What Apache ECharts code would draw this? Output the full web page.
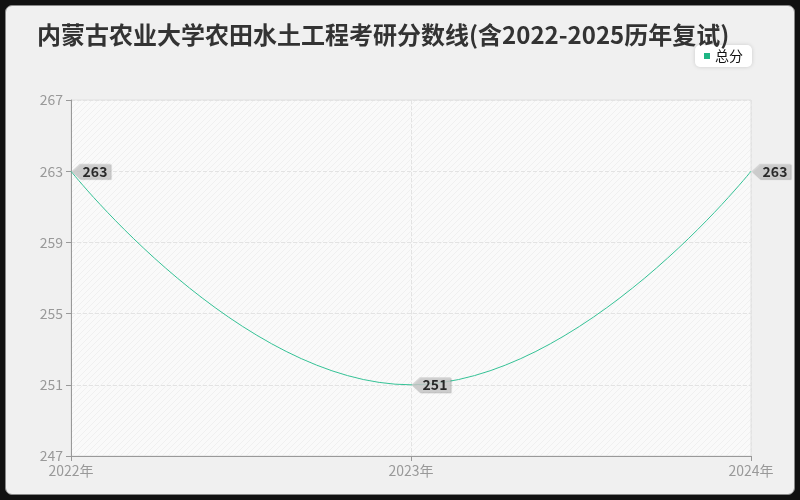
<!DOCTYPE html>
<html><head><meta charset="utf-8">
<script src="https://cdn.jsdelivr.net/npm/echarts@6/dist/echarts.min.js"></script>
<style>
html,body{margin:0;padding:0;background:#111;}
#wrap{position:absolute;left:5px;top:5px;width:788px;height:488px;background:#f0f0f0;border:1px solid #888;border-radius:7px;overflow:hidden;}
#c{width:788px;height:488px;}
</style></head>
<body><div id="wrap"><div id="c"></div></div>
<script>
const years = ['2022年','2023年','2024年'];
const totalScores = [263, 251, 263];
const yTicks = {min:247, max:267, interval:4};

const pc = document.createElement('canvas');
pc.width = 6; pc.height = 6;
const g = pc.getContext('2d');
g.fillStyle = '#fafafa'; g.fillRect(0,0,6,6);
g.strokeStyle = '#f0f0f0'; g.lineWidth = 1;
g.beginPath(); g.moveTo(0,6); g.lineTo(6,0); g.stroke();
g.beginPath(); g.moveTo(-3,3); g.lineTo(3,-3); g.stroke();
g.beginPath(); g.moveTo(3,9); g.lineTo(9,3); g.stroke();

const chart = echarts.init(document.getElementById('c'));
chart.setOption({
  animation:false,
  title:{text:'内蒙古农业大学农田水土工程考研分数线(含2022-2025历年复试)',left:26,top:12,
    textStyle:{fontSize:24,fontWeight:'bold',color:'#333',fontFamily:'Noto Sans CJK SC'}},
  legend:{data:['总分'],right:42,top:39,backgroundColor:'#fff',borderRadius:5,padding:[4,9,4,9],
    shadowColor:'rgba(0,0,0,0.15)',shadowBlur:4,
    icon:'rect',itemWidth:6,itemHeight:6,itemGap:6,
    textStyle:{fontSize:14,color:'#111',fontFamily:'Noto Sans CJK SC'}},
  grid:{left:65,right:43,top:94,bottom:38,show:true,borderColor:'#e0e0e0',borderWidth:1,
    backgroundColor:{image:pc,repeat:'repeat'}},
  xAxis:{type:'category',data:years,boundaryGap:false,
    axisLine:{lineStyle:{color:'#999'}},axisTick:{show:true,lineStyle:{color:'#999'}},
    axisLabel:{color:'#999',fontSize:14,fontFamily:'Noto Sans CJK SC'},
    splitLine:{show:true,lineStyle:{color:'#e3e3e3',type:'dashed'}}},
  yAxis:{type:'value',min:yTicks.min,max:yTicks.max,interval:yTicks.interval,
    axisLine:{show:true,lineStyle:{color:'#999'}},axisTick:{show:true,lineStyle:{color:'#999'}},
    axisLabel:{color:'#999',fontSize:14,fontFamily:'Noto Sans CJK SC'},
    splitLine:{show:true,lineStyle:{color:'#e3e3e3',type:'dashed'}}},
  series:[
    {name:'总分',type:'line',data:totalScores,smooth:true,showSymbol:false,symbol:'none',
      itemStyle:{color:'#1fb584'},lineStyle:{color:'#35c296',width:1}},
    {name:'标签',type:'scatter',data:totalScores,silent:true,
      symbol:'path://M0,7 L8,0 L38,0 L38,14 L8,14 Z',symbolKeepAspect:false,symbolSize:[39,15],symbolOffset:[20,0],
      itemStyle:{color:'#d0d0d0',shadowColor:'rgba(0,0,0,0.3)',shadowBlur:1,shadowOffsetX:1,shadowOffsetY:1},
      label:{show:true,position:'inside',offset:[4,0],color:'#000',fontSize:14,fontWeight:'bold',
        fontFamily:'Noto Sans CJK SC',formatter:p=>p.value},z:5}
  ]
});
</script></body></html>
